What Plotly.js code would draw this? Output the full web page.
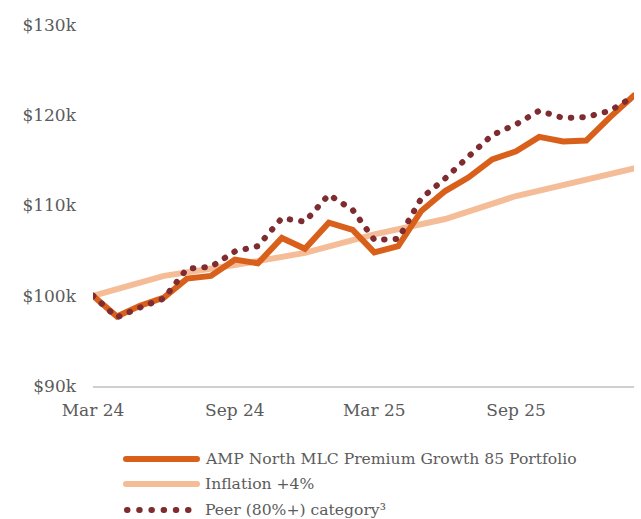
<!DOCTYPE html>
<html>
<head>
<meta charset="utf-8">
<script src="https://cdn.plot.ly/plotly-3.0.1.min.js"></script>
<style>
  html, body { margin: 0; padding: 0; background: #fff; }
  #chart { width: 641px; height: 519px; }
  .scatterlayer .js-line { stroke-linecap: round !important; }
  .shapelayer path { stroke-linecap: round !important; }
</style>
</head>
<body>
<div id="chart"></div>
<script>
// ---- data (values in $ thousands) ----
const months = ['2024-03-01','2024-04-01','2024-05-01','2024-06-01','2024-07-01','2024-08-01',
                '2024-09-01','2024-10-01','2024-11-01','2024-12-01','2025-01-01','2025-02-01',
                '2025-03-01','2025-04-01','2025-05-01','2025-06-01','2025-07-01','2025-08-01',
                '2025-09-01','2025-10-01','2025-11-01','2025-12-01','2026-01-01','2026-02-01'];
const ampValues = [100.0, 97.7, 98.9, 99.8, 101.9, 102.2, 104.0, 103.6, 106.4, 105.2, 108.1, 107.3,
                   104.8, 105.5, 109.4, 111.6, 113.1, 115.1, 116.0, 117.6, 117.1, 117.2, 119.8, 122.2];
const peerValues = [100.0, 97.6, 98.7, 99.7, 103.0, 103.2, 104.9, 105.5, 108.6, 108.2, 111.2, 109.5,
                    106.2, 106.3, 110.8, 113.0, 115.4, 117.8, 119.0, 120.5, 119.7, 119.8, 120.5, 122.1];
const inflationDates = ['2024-03-01','2024-06-01','2024-09-01','2024-12-01','2025-03-01',
                        '2025-06-01','2025-09-01','2025-12-01','2026-02-01'];
const inflationValues = [100.0, 102.2, 103.4, 104.75, 106.8, 108.5, 111.05, 112.9, 114.1];

const seriesNames = ['AMP North MLC Premium Growth 85 Portfolio', 'Inflation +4%', 'Peer (80%+) category³'];
const xTickVals = ['2024-03-01','2024-09-01','2025-03-01','2025-09-01'];
const xTickText = ['Mar 24','Sep 24','Mar 25','Sep 25'];
const yTickVals = [90, 100, 110, 120, 130];
const yTickText = ['$90k','$100k','$110k','$120k','$130k'];

const colAmp = '#D9601B';
const colInfl = '#F5BC98';
const colPeer = '#7E2C2F';
const textCol = '#5b5b5b';
const FONT = 'DejaVu Serif, serif';

const traces = [
  { x: inflationDates, y: inflationValues, type: 'scatter', mode: 'lines', name: seriesNames[1],
    line: { color: colInfl, width: 6 }, cliponaxis: false, hoverinfo: 'skip' },
  { x: months, y: ampValues, type: 'scatter', mode: 'lines', name: seriesNames[0],
    line: { color: colAmp, width: 6 }, cliponaxis: false, hoverinfo: 'skip' },
  { x: months, y: peerValues, type: 'scatter', mode: 'lines', name: seriesNames[2],
    line: { color: colPeer, width: 6, dash: '0.5px,11px' }, cliponaxis: false, hoverinfo: 'skip' }
];

// custom legend (symbols + labels)
const L = 93, W = 541, B = 386, H = 361;
const px = v => (v - L) / W;
const py = v => (B - v) / H;
const legendRows = [459, 484, 510];
const shapes = [
  { type: 'line', xref: 'paper', yref: 'paper', x0: px(126), x1: px(197), y0: py(legendRows[0]), y1: py(legendRows[0]),
    line: { color: colAmp, width: 6 } },
  { type: 'line', xref: 'paper', yref: 'paper', x0: px(126), x1: px(197), y0: py(legendRows[1]), y1: py(legendRows[1]),
    line: { color: colInfl, width: 6 } },
  { type: 'line', xref: 'paper', yref: 'paper', x0: px(127), x1: px(188.5), y0: py(legendRows[2]), y1: py(legendRows[2]),
    line: { color: colPeer, width: 6, dash: '0.5px,11.7px' } }
];
const annotations = seriesNames.map((t, i) => ({
  text: t, xref: 'paper', yref: 'paper', x: px(203), y: py(legendRows[i]),
  xanchor: 'left', yanchor: 'middle', showarrow: false,
  font: { family: FONT, size: 15.6, color: textCol }
}));

const layout = {
  width: 641, height: 519,
  margin: { l: 93, r: 7, t: 25, b: 133 },
  paper_bgcolor: '#fff', plot_bgcolor: '#fff',
  showlegend: false,
  font: { family: FONT, color: textCol },
  xaxis: {
    type: 'date',
    range: ['2024-03-01', '2026-02-01'],
    tickvals: xTickVals, ticktext: xTickText,
    showgrid: false, zeroline: false,
    showline: true, linecolor: '#cfcfcf', linewidth: 1.5,
    ticks: '', ticklabelstandoff: 8,
    tickfont: { family: FONT, size: 17, color: textCol }
  },
  yaxis: {
    range: [90, 130],
    tickvals: yTickVals, ticktext: yTickText,
    showgrid: false, zeroline: false, showline: false,
    ticks: '', ticklabelstandoff: 16,
    tickfont: { family: FONT, size: 17, color: textCol }
  },
  shapes: shapes,
  annotations: annotations
};

Plotly.newPlot('chart', traces, layout, { displayModeBar: false, staticPlot: true });
</script>
</body>
</html>
